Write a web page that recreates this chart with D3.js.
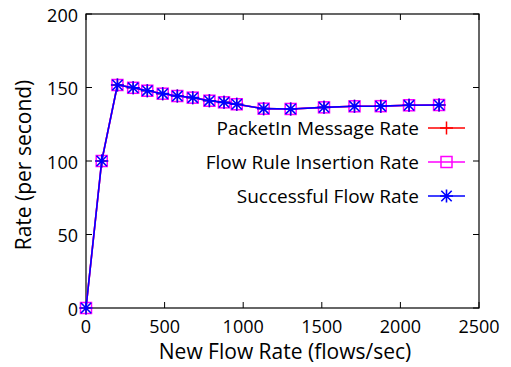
<!DOCTYPE html>
<html>
<head>
<meta charset="utf-8">
<script src="https://cdn.jsdelivr.net/npm/d3@7"></script>
<style>
  body { margin: 0; background: #fff; }
  svg { font-family: "Open Sans", sans-serif; }
</style>
</head>
<body>
<svg id="chart"></svg>
<script>
// values
const flowRate = [0, 100, 200, 300, 390, 488, 581, 679, 785, 878, 959, 1130, 1302, 1514, 1708, 1875, 2055, 2246];
const packetInRate = [0, 100, 151.7, 149.8, 147.8, 145.8, 144.2, 143.1, 141.0, 139.9, 138.6, 135.6, 135.4, 136.5, 137.2, 137.3, 137.9, 138.1];
const ruleInsertRate = [0, 100, 151.7, 149.8, 147.8, 145.8, 144.2, 143.1, 141.0, 139.9, 138.6, 135.6, 135.4, 136.5, 137.2, 137.3, 137.9, 138.1];
const successRate = [0, 100, 151.7, 149.8, 147.8, 145.8, 144.2, 143.1, 141.0, 139.9, 138.6, 135.6, 135.4, 136.5, 137.2, 137.3, 137.9, 138.1];
const seriesNames = ['PacketIn Message Rate', 'Flow Rule Insertion Rate', 'Successful Flow Rate'];
const xTicks = [0, 500, 1000, 1500, 2000, 2500];
const yTicks = [0, 50, 100, 150, 200];

let width = 511, height = 367;
let margin = { left: 86, right: 32, top: 14, bottom: 59 };

let svg = d3.select('#chart')
    .attr('width', width)
    .attr('height', height);

let scaleX = d3.scaleLinear()
    .domain([0, 2500])
    .range([margin.left, width - margin.right]);
let scaleY = d3.scaleLinear()
    .domain([0, 200])
    .range([height - margin.bottom, margin.top]);

let x0 = scaleX.range()[0], x1 = scaleX.range()[1];
let y0 = scaleY.range()[0], y1 = scaleY.range()[1];
let tickLen = 6;

// ticks (inward, mirrored like gnuplot)
let ticks = svg.append('g').attr('stroke', '#000').attr('stroke-width', 1);
xTicks.forEach(t => {
    let x = scaleX(t);
    ticks.append('line').attr('x1', x).attr('x2', x).attr('y1', y0).attr('y2', y0 - tickLen);
    ticks.append('line').attr('x1', x).attr('x2', x).attr('y1', y1).attr('y2', y1 + tickLen);
});
yTicks.forEach(t => {
    let y = scaleY(t);
    ticks.append('line').attr('x1', x0).attr('x2', x0 + tickLen).attr('y1', y).attr('y2', y);
    ticks.append('line').attr('x1', x1).attr('x2', x1 - tickLen).attr('y1', y).attr('y2', y);
});

// frame
svg.append('rect')
    .attr('x', x0).attr('y', y1)
    .attr('width', x1 - x0).attr('height', y0 - y1)
    .attr('fill', 'none').attr('stroke', '#000').attr('stroke-width', 1.2);

// tick labels
svg.append('g').selectAll('text')
    .data(xTicks).enter().append('text')
    .attr('x', d => scaleX(d))
    .attr('y', 333)
    .attr('text-anchor', 'middle')
    .attr('font-size', 18)
    .text(d => d);
svg.append('g').selectAll('text')
    .data(yTicks).enter().append('text')
    .attr('x', x0 - 8)
    .attr('y', d => scaleY(d) + 7.5)
    .attr('text-anchor', 'end')
    .attr('font-size', 18)
    .text(d => d);

// axis titles
svg.append('text')
    .attr('x', 285).attr('y', 359)
    .attr('text-anchor', 'middle')
    .attr('font-size', 21)
    .text('New Flow Rate (flows/sec)');
svg.append('text')
    .attr('transform', `translate(31, 165) rotate(-90)`)
    .attr('text-anchor', 'middle')
    .attr('font-size', 21)
    .text('Rate (per second)');

let series = [
    { name: seriesNames[0], values: packetInRate, color: '#ff0000', marker: 'plus' },
    { name: seriesNames[1], values: ruleInsertRate, color: '#ff00ff', marker: 'square' },
    { name: seriesNames[2], values: successRate, color: '#0000ff', marker: 'star' }
];

function drawMarker(g, type, color, x, y) {
    let s = 6.5;
    if (type === 'plus') {
        g.append('path').attr('d', `M${x - s},${y}H${x + s}M${x},${y - s}V${y + s}`)
            .attr('stroke', color).attr('stroke-width', 1.5).attr('fill', 'none');
    } else if (type === 'square') {
        g.append('rect').attr('x', x - 5.5).attr('y', y - 5.5).attr('width', 11).attr('height', 11)
            .attr('stroke', color).attr('stroke-width', 1.5).attr('fill', 'none');
    } else {
        let d = s * 0.8;
        g.append('path')
            .attr('d', `M${x - s},${y}H${x + s}M${x},${y - s}V${y + s}M${x - d},${y - d}L${x + d},${y + d}M${x - d},${y + d}L${x + d},${y - d}`)
            .attr('stroke', color).attr('stroke-width', 1.6).attr('fill', 'none');
    }
}

let line = d3.line()
    .x((d, i) => scaleX(flowRate[i]))
    .y(d => scaleY(d));

series.forEach(s => {
    let g = svg.append('g');
    g.append('path')
        .datum(s.values)
        .attr('d', line)
        .attr('fill', 'none')
        .attr('stroke', s.color)
        .attr('stroke-width', 1.6);
    s.values.forEach((v, i) => drawMarker(g, s.marker, s.color, scaleX(flowRate[i]), scaleY(v)));
});

// legend
let legendY = [128, 162, 196];
series.forEach((s, i) => {
    let g = svg.append('g');
    g.append('text')
        .attr('x', 419).attr('y', legendY[i] + 7)
        .attr('text-anchor', 'end')
        .attr('font-size', 19)
        .text(s.name);
    g.append('line')
        .attr('x1', 428).attr('x2', 465)
        .attr('y1', legendY[i]).attr('y2', legendY[i])
        .attr('stroke', s.color).attr('stroke-width', 1.6);
    drawMarker(g, s.marker, s.color, 446.5, legendY[i]);
});
</script>
</body>
</html>
